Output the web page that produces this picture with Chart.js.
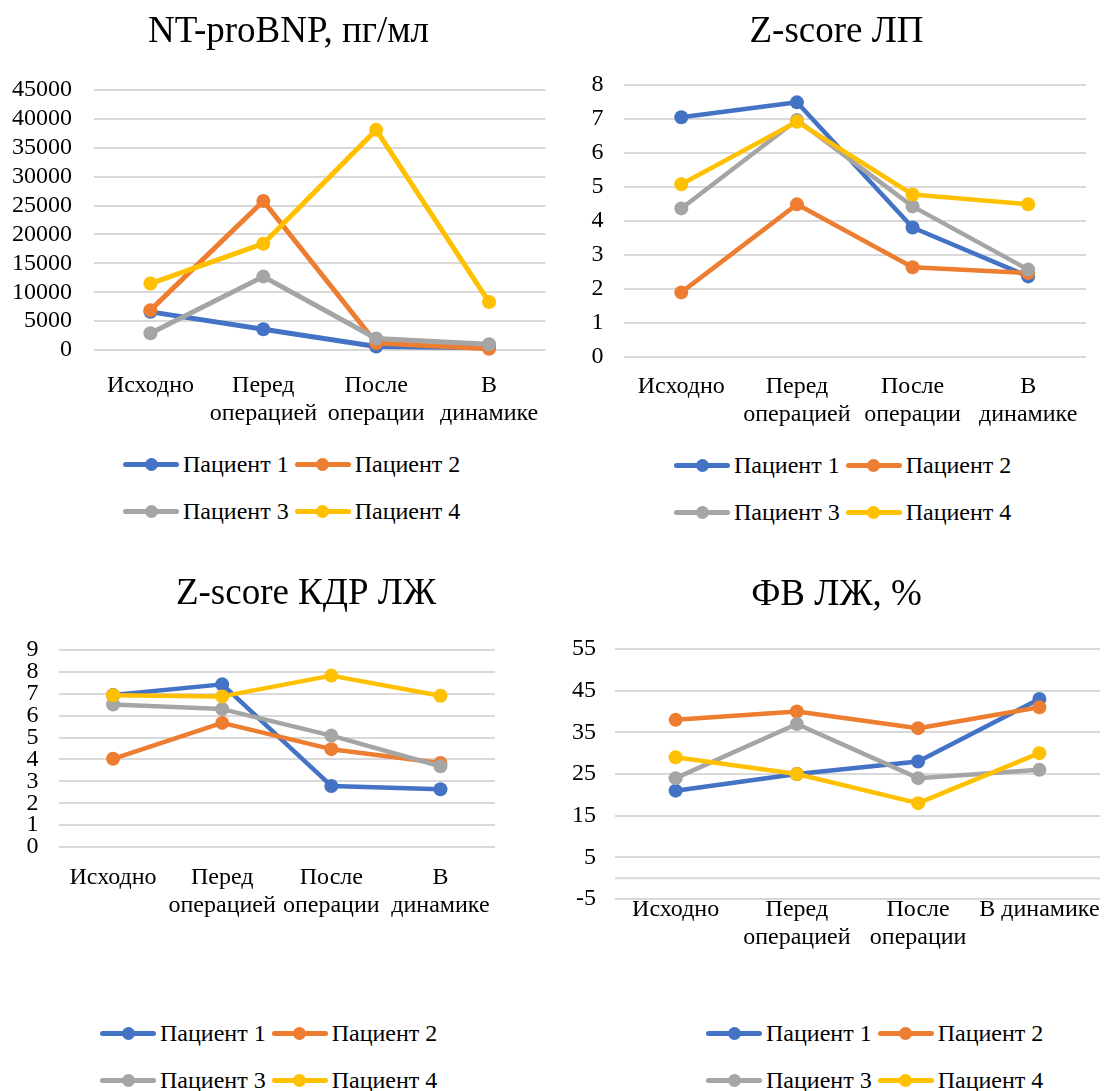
<!DOCTYPE html>
<html>
<head>
<meta charset="utf-8">
<script src="https://cdn.jsdelivr.net/npm/chart.js@4.4.1/dist/chart.umd.min.js"></script>
<style>
  body { margin: 0; background: #fff; width: 1107px; height: 1091px; position: relative; overflow: hidden; font-family: "Liberation Serif", "Times New Roman", serif; }
  .box { position: absolute; }
  .legend { position: absolute; display: grid; grid-template-columns: auto auto; column-gap: 6px; row-gap: 19px; font-size: 24px; line-height: 28px; color: #000; }
  .item { display: flex; align-items: center; white-space: nowrap; }
  .mark { position: relative; width: 56px; height: 28px; margin-right: 4px; }
  .mark .ln { position: absolute; left: 0; right: 0; top: 11.5px; height: 5px; border-radius: 2.5px; }
  .mark .dot { position: absolute; left: 21.5px; top: 7.5px; width: 13px; height: 13px; border-radius: 50%; }
</style>
</head>
<body>
<div class="box" id="c1"><canvas></canvas></div>
<div class="box" id="c2"><canvas></canvas></div>
<div class="box" id="c3"><canvas></canvas></div>
<div class="box" id="c4"><canvas></canvas></div>
<div class="legend" id="l1"></div>
<div class="legend" id="l2"></div>
<div class="legend" id="l3"></div>
<div class="legend" id="l4"></div>

<script>
// ---------------- data ----------------
var stages = ['Исходно', ['Перед', 'операцией'], ['После', 'операции'], ['В', 'динамике']];
var stagesFv = ['Исходно', ['Перед', 'операцией'], ['После', 'операции'], 'В динамике'];
var patients = ['Пациент 1', 'Пациент 2', 'Пациент 3', 'Пациент 4'];

// one row per patient
var ntProBnp = [
  [6600, 3600, 600, 400],
  [6900, 25800, 1200, 200],
  [2900, 12700, 2000, 1000],
  [11500, 18400, 38100, 8300]
];
var zLp = [
  [7.05, 7.49, 3.81, 2.37],
  [1.90, 4.49, 2.64, 2.47],
  [4.37, 6.97, 4.43, 2.57],
  [5.08, 6.92, 4.78, 4.49]
];
var zKdr = [
  [6.94, 7.43, 2.79, 2.64],
  [4.03, 5.67, 4.47, 3.84],
  [6.51, 6.30, 5.09, 3.69],
  [6.93, 6.88, 7.83, 6.91]
];
var fvLv = [
  [21, 25, 28, 43],
  [38, 40, 36, 41],
  [24, 37, 24, 26],
  [29, 25, 18, 30]
];

var bnpTicks = [0, 5000, 10000, 15000, 20000, 25000, 30000, 35000, 40000, 45000];
var lpTicks = [0, 1, 2, 3, 4, 5, 6, 7, 8];
var kdrTicks = [0, 1, 2, 3, 4, 5, 6, 7, 8, 9];
var fvTicks = [-5, 5, 15, 25, 35, 45, 55];

// ---------------- styles ----------------
var colors = ['#4472C4', '#ED7D31', '#A5A5A5', '#FFC000'];
var gridColor = '#d9d9d9';
var serif = 'Liberation Serif';

Chart.defaults.font.family = serif;
Chart.defaults.color = '#000';

// horizontal line where the category axis crosses zero
var zeroLine = {
  id: 'zeroLine',
  beforeDatasetsDraw: function (chart) {
    var y = chart.scales.y.getPixelForValue(0);
    var a = chart.chartArea;
    var ctx = chart.ctx;
    ctx.save();
    ctx.strokeStyle = gridColor;
    ctx.lineWidth = 2;
    ctx.beginPath();
    ctx.moveTo(a.left, y);
    ctx.lineTo(a.right, y);
    ctx.stroke();
    ctx.restore();
  }
};

// g: page geometry of one panel; the canvas spans left..right so the title
// sits in its middle, an empty right axis keeps the plot inside plotRight
function makeChart(id, g, title, labels, series, ticks, plugins) {
  var box = document.getElementById(id);
  var w = g.right - g.left;
  var h = g.plotBottom - g.top + 80;
  box.style.left = g.left + 'px';
  box.style.top = g.top + 'px';
  var canvas = box.querySelector('canvas');
  canvas.width = w;
  canvas.height = h;
  var titleSize = 37, titleLH = 1.2;
  var half = titleSize * titleLH / 2;
  var tickFont = { family: serif, size: 24, lineHeight: 1.17 };

  return new Chart(canvas, {
    type: 'line',
    data: {
      labels: labels,
      datasets: series.map(function (vals, i) {
        return {
          label: patients[i],
          data: vals,
          borderColor: colors[i],
          backgroundColor: colors[i],
          pointBackgroundColor: colors[i],
          pointBorderColor: colors[i],
          pointBorderWidth: 0,
          pointRadius: 7,
          pointHoverRadius: 7,
          borderWidth: g.lw,
          borderCapStyle: 'round',
          borderJoinStyle: 'round',
          tension: 0,
          clip: false,
          order: 3 - i
        };
      })
    },
    options: {
      responsive: false,
      animation: false,
      devicePixelRatio: 1,
      layout: { padding: 0 },
      plugins: {
        legend: { display: false },
        tooltip: { enabled: false },
        title: {
          display: true,
          text: title,
          color: '#000',
          font: { family: serif, size: titleSize, weight: 'normal', lineHeight: titleLH },
          padding: { top: g.titleY - g.top - half, bottom: g.plotTop - g.titleY - half }
        }
      },
      scales: {
        x: {
          offset: true,
          grid: { display: false, offset: true },
          border: { display: false },
          ticks: {
            color: '#000',
            font: tickFont,
            padding: g.xPad,
            autoSkip: false,
            maxRotation: 0,
            minRotation: 0
          },
          afterFit: function (s) { s.height = 80; }
        },
        y: {
          min: ticks[0],
          max: ticks[ticks.length - 1],
          grid: { color: gridColor, lineWidth: 2, drawTicks: false },
          border: { display: false },
          ticks: {
            stepSize: ticks[1] - ticks[0],
            color: '#000',
            font: tickFont,
            padding: g.yPad,
            autoSkip: false,
            callback: function (v) { return String(v); }
          },
          afterFit: function (s) { s.width = g.plotLeft - g.left; }
        },
        side: {
          type: 'linear',
          position: 'right',
          grid: { display: false, drawTicks: false },
          border: { display: false },
          ticks: { display: false },
          afterFit: function (s) { s.width = g.right - g.plotRight; }
        }
      }
    },
    plugins: plugins || []
  });
}

function buildLegend(chart, id, left, top) {
  var el = document.getElementById(id);
  el.style.left = left + 'px';
  el.style.top = top + 'px';
  chart.data.datasets.forEach(function (ds) {
    var item = document.createElement('div');
    item.className = 'item';
    var mark = document.createElement('span');
    mark.className = 'mark';
    var ln = document.createElement('span');
    ln.className = 'ln';
    ln.style.background = ds.borderColor;
    var dot = document.createElement('span');
    dot.className = 'dot';
    dot.style.background = ds.pointBackgroundColor;
    mark.appendChild(ln);
    mark.appendChild(dot);
    var txt = document.createElement('span');
    txt.textContent = ds.label;
    item.appendChild(mark);
    item.appendChild(txt);
    el.appendChild(item);
  });
}

var ch1 = makeChart('c1',
  { left: 0, right: 577, top: 0, plotLeft: 94, plotRight: 545.5, plotTop: 90, plotBottom: 350, titleY: 32, xPad: 14, yPad: 22, lw: 5 },
  'NT-proBNP, пг/мл', stages, ntProBnp, bnpTicks);

var ch2 = makeChart('c2',
  { left: 566, right: 1107, top: 0, plotLeft: 623.5, plotRight: 1086, plotTop: 85, plotBottom: 357, titleY: 32, xPad: 8, yPad: 20, lw: 4.5 },
  'Z-score ЛП', stages, zLp, lpTicks);

var ch3 = makeChart('c3',
  { left: 0, right: 612, top: 540, plotLeft: 58.5, plotRight: 495, plotTop: 650, plotBottom: 847, titleY: 594, xPad: 9, yPad: 20, lw: 4.5 },
  'Z-score КДР ЛЖ', stages, zKdr, kdrTicks);

var ch4 = makeChart('c4',
  { left: 566, right: 1107, top: 540, plotLeft: 615, plotRight: 1107, plotTop: 649, plotBottom: 899, titleY: 595, xPad: -11, yPad: 19, lw: 4.5 },
  'ФВ ЛЖ, %', stagesFv, fvLv, fvTicks, [zeroLine]);

buildLegend(ch1, 'l1', 123, 450);
buildLegend(ch2, 'l2', 674, 451);
buildLegend(ch3, 'l3', 100, 1019);
buildLegend(ch4, 'l4', 706, 1019);
</script>
</body>
</html>
